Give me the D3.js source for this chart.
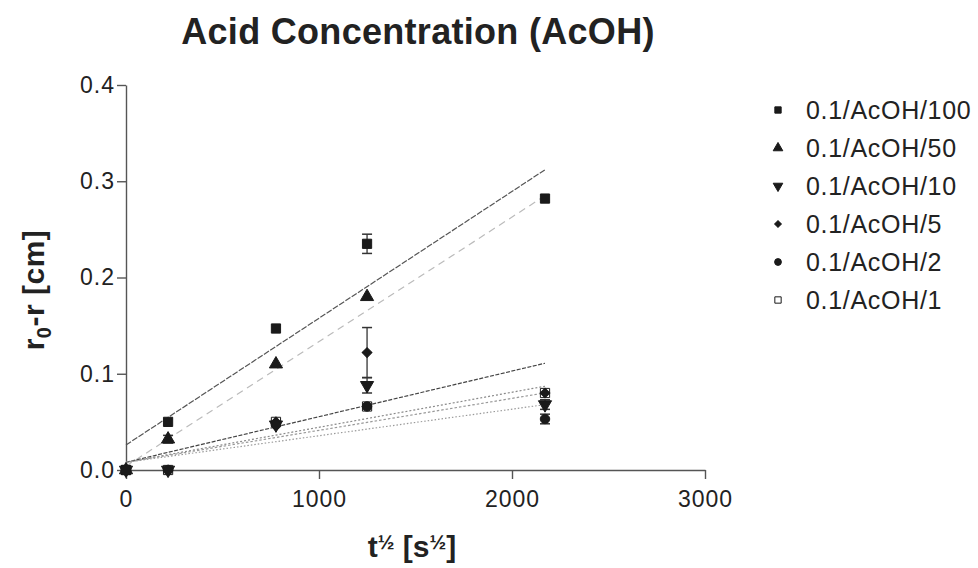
<!DOCTYPE html>
<html><head><meta charset="utf-8">
<script src="https://cdn.jsdelivr.net/npm/d3@7"></script>
<style>
html,body{margin:0;padding:0;background:#fff;}
text{font-family:"Liberation Sans",Arial,Helvetica,sans-serif;fill:#222;}
</style></head>
<body><svg id="chart" width="978" height="568"></svg>
<script>
// ---- data ----
const seriesNames = ["0.1/AcOH/100","0.1/AcOH/50","0.1/AcOH/10","0.1/AcOH/5","0.1/AcOH/2","0.1/AcOH/1"];
const xValues = [0, 218, 777, 1249, 2171];
const yAcOH100 = [0, 0.050, 0.147, 0.235, 0.282];
const yAcOH50  = [0, 0.032, 0.110, 0.180, null];
const yAcOH10  = [0, 0.000, 0.047, 0.088, 0.068];
const yAcOH5   = [0, 0.000, 0.050, 0.122, 0.080];
const yAcOH2   = [0, 0.000, 0.047, 0.066, 0.053];
const yAcOH1   = [0, 0.000, 0.050, 0.066, 0.080];
const eAcOH100 = [0, 0.002, 0.003, 0.010, 0.003];
const eAcOH50  = [0, 0.004, 0.002, 0.002, 0.002];
const eAcOH10  = [0, 0.000, 0.002, 0.008, 0.005];
const eAcOH5   = [0, 0.000, 0.002, 0.026, 0.002];
const eAcOH2   = [0, 0.000, 0.002, 0.002, 0.005];
const eAcOH1   = [0, 0.000, 0.002, 0.002, 0.002];
const fitIntercept = [0.026, 0.004, 0.008, 0.008, 0.008, 0.008];
const fitSlope     = [1.317e-4, 1.294e-4, 3.64e-5, 4.74e-5, 2.76e-5, 3.32e-5];
const fitXEnd = 2171;
const xTicks = [0, 1000, 2000, 3000];
const yTicks = [0, 0.1, 0.2, 0.3, 0.4];

const yData = [yAcOH100, yAcOH50, yAcOH10, yAcOH5, yAcOH2, yAcOH1];
const eData = [eAcOH100, eAcOH50, eAcOH10, eAcOH5, eAcOH2, eAcOH1];

// ---- styles ----
const symbols = [d3.symbolSquare, d3.symbolTriangle, d3.symbolTriangle, d3.symbolSquare, d3.symbolCircle, d3.symbolSquare];
const symRot = [0,0,180,45,0,0];
const symFill = ["#1a1a1a","#1a1a1a","#1a1a1a","#1a1a1a","#1a1a1a","#fff"];
const symSize = [85,75,75,48,70,85];
const legSize = [40,40,40,22,36,40];
const lineStroke = ["#555","#bbb","#8a8a8a","#444","#9a9a9a","#999"];
const lineDash = ["6,1.5","7,5","2,2","4,1.5","1.5,2","2.5,2"];
const drawOrder = [5,3,2,4,1,0];

const svg = d3.select("#chart");
const x = d3.scaleLinear().domain([0,3000]).range([126,705]);
const y = d3.scaleLinear().domain([0,0.4]).range([470,85]);

// title
svg.append("text").attr("x",418).attr("y",44).attr("text-anchor","middle")
  .attr("font-size",36).attr("font-weight","bold").attr("letter-spacing","0.3")
  .text("Acid Concentration (AcOH)");

// axes
const gx = svg.append("g").attr("transform","translate(0,470)")
  .call(d3.axisBottom(x).tickValues(xTicks).tickFormat(d3.format("d")).tickSize(9).tickSizeOuter(0).tickPadding(12));
const gy = svg.append("g").attr("transform","translate(126,0)")
  .call(d3.axisLeft(y).tickValues(yTicks).tickFormat(d3.format(".1f")).tickSize(9).tickSizeOuter(0).tickPadding(2));
[gx,gy].forEach(g=>{
  g.selectAll("path,line").attr("stroke","#555").attr("stroke-width",1.4);
  g.selectAll("text").attr("font-size",23).attr("letter-spacing","1").attr("fill","#222")
    .style("font-family","'Liberation Sans',Arial,sans-serif");
});

// axis titles
const xt = svg.append("text").attr("x",412).attr("y",557).attr("text-anchor","middle")
  .attr("font-size",30).attr("font-weight","bold");
xt.append("tspan").text("t");
xt.append("tspan").attr("font-size",20).attr("dy",-8).text("½");
xt.append("tspan").attr("dy",8).text(" [s");
xt.append("tspan").attr("font-size",20).attr("dy",-8).text("½");
xt.append("tspan").attr("dy",8).text("]");

const yt = svg.append("text").attr("transform","translate(44,290) rotate(-90)").attr("text-anchor","middle")
  .attr("font-size",30).attr("font-weight","bold").attr("letter-spacing","0.5");
yt.append("tspan").text("r");
yt.append("tspan").attr("font-size",20).attr("dy",7).text("0");
yt.append("tspan").attr("dy",-7).text("-r [cm]");

// regression lines
const plot = svg.append("g");
for (let i = 0; i < seriesNames.length; i++) {
  plot.append("line")
    .attr("x1",x(0)).attr("y1",y(fitIntercept[i]))
    .attr("x2",x(fitXEnd)).attr("y2",y(fitIntercept[i]+fitSlope[i]*fitXEnd))
    .attr("stroke",lineStroke[i]).attr("stroke-width",1.2).attr("stroke-dasharray",lineDash[i]);
}

// points and error bars
drawOrder.forEach(i=>{
  const g = plot.append("g");
  xValues.forEach((xv,j)=>{
    const v = yData[i][j], e = eData[i][j];
    if (v === null) return;
    if (e > 0.003) {
      const px = x(xv);
      g.append("line").attr("x1",px).attr("x2",px).attr("y1",y(v-e)).attr("y2",y(v+e)).attr("stroke","#333").attr("stroke-width",1.3);
      [v-e,v+e].forEach(w=> g.append("line").attr("x1",px-5).attr("x2",px+5).attr("y1",y(w)).attr("y2",y(w)).attr("stroke","#333").attr("stroke-width",1.5));
    }
    g.append("path").attr("d",d3.symbol().type(symbols[i]).size(symSize[i])())
      .attr("transform",`translate(${x(xv)},${y(v)}) rotate(${symRot[i]})`)
      .attr("fill",symFill[i]).attr("stroke","#1a1a1a").attr("stroke-width",1);
  });
});

// legend
const leg = svg.append("g");
seriesNames.forEach((name,i)=>{
  const ly = 110 + i*38;
  leg.append("path").attr("d",d3.symbol().type(symbols[i]).size(legSize[i])())
    .attr("transform",`translate(778,${ly}) rotate(${symRot[i]})`)
    .attr("fill",symFill[i]).attr("stroke","#1a1a1a").attr("stroke-width",1);
  leg.append("text").attr("x",806).attr("y",ly+9).attr("font-size",25).attr("letter-spacing","0.7").text(name);
});
</script></body></html>
